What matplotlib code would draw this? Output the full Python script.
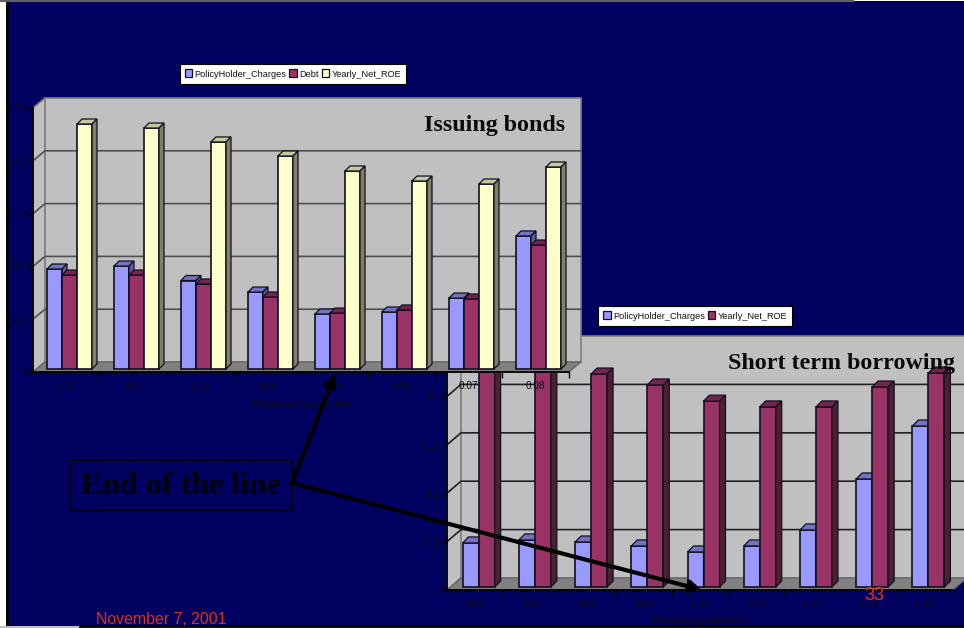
import numpy as np
import matplotlib
matplotlib.use('Agg')
import matplotlib.pyplot as plt
from matplotlib.patches import Polygon, Patch, Rectangle

W, H = 964, 628

# issuing bonds chart
bond_cats = ['0.01', '0.02', '0.03', '0.04', '0.05', '0.06', '0.07', '0.08']
bond_charges = [0.0947, 0.0975, 0.0838, 0.0729, 0.0521, 0.0540, 0.0672, 0.1260]
bond_debt = [0.0890, 0.0890, 0.0805, 0.0682, 0.0530, 0.0559, 0.0663, 0.1174]
bond_roe = [0.2320, 0.2282, 0.2150, 0.2017, 0.1875, 0.1780, 0.1752, 0.1913]

# short term borrowing chart
short_cats = ['0.01', '0.02', '0.03', '0.04', '0.05', '0.06', '0.07', '0.08', '0.09']
short_charges = [0.0455, 0.0486, 0.0465, 0.0424, 0.0362, 0.0424, 0.0589, 0.1116, 0.1663]
short_roe = [0.2350, 0.2280, 0.2200, 0.2087, 0.1920, 0.1860, 0.1860, 0.2066, 0.2210]

y_ticks = [0, 0.05, 0.1, 0.15, 0.2, 0.25]
y_labels = ['0', '0.05', '0.1', '0.15', '0.2', '0.25']

# front, top, side colours
BLUE = ('#9999ff', '#7373c0', '#5c5c99')
WINE = ('#993366', '#73264d', '#4d1f33')
CREAM = ('#ffffcc', '#c8c8a0', '#808066')
INK = '#0a0a1e'

plt.rcParams['font.family'] = ['Liberation Sans', 'DejaVu Sans']

fig = plt.figure(figsize=(W / 100, H / 100), dpi=100, facecolor='white')


def px_axes(x0, y0, x1, y1, z):
    # pixel box (top-down) to figure fraction
    return fig.add_axes([x0 / W, 1 - y1 / H, (x1 - x0) / W, (y1 - y0) / H], zorder=z)


def chart(box, z, cats, series, colors, names, depth, bar_px, bar_shift, grid_col, xlabel, xlabel_y, legend_box):
    ax = px_axes(*box, z)
    n = len(cats)
    ax.set_xlim(0, n)
    ax.set_ylim(0, 0.25)
    ax.patch.set_visible(False)
    px_x = n / (box[2] - box[0])
    px_y = 0.25 / (box[3] - box[1])
    dx, dy = depth[0] * px_x, depth[1] * px_y

    # walls and floor
    top = 0.25
    ax.add_patch(Polygon([(0, 0), (0, top), (dx, top + dy), (dx, dy)], fc='#c0c0c0', ec='#808080', lw=1.2, clip_on=False, zorder=1))
    ax.add_patch(Polygon([(dx, dy), (dx, top + dy), (n + dx, top + dy), (n + dx, dy)], fc='#c0c0c0', ec='#808080', lw=1.2, clip_on=False, zorder=1))
    ax.add_patch(Polygon([(0, 0), (dx, dy), (n + dx, dy), (n, 0)], fc='#808080', ec='#606060', lw=0.8, clip_on=False, zorder=1))
    for t in y_ticks[1:-1]:
        ax.plot([0, dx, n + dx], [t, t + dy, t + dy], color=grid_col, lw=1.2, clip_on=False, zorder=2)

    # bars with fake depth
    w = bar_px * px_x
    k = len(series)
    sx, sy = bar_shift[0] * px_x, bar_shift[1] * px_y
    bx, by = bar_shift[2] * px_x, bar_shift[3] * px_y
    xs = np.arange(n) + 0.5 + sx
    for j, (vals, col) in enumerate(zip(series, colors)):
        left = xs + (j - k / 2) * w
        ax.bar(left, vals, width=w, bottom=sy, align='edge', color=col[0], edgecolor='#101020', lw=1.2, zorder=3 + j * 2)
        for l, v in zip(left, vals):
            t = v + sy
            ax.add_patch(Polygon([(l, t), (l + bx, t + by), (l + w + bx, t + by), (l + w, t)], fc=col[1], ec='#101020', lw=0.9, zorder=3 + j * 2, clip_on=False))
            ax.add_patch(Polygon([(l + w, sy), (l + w, t), (l + w + bx, t + by), (l + w + bx, sy + by)], fc=col[2], ec='#101020', lw=0.9, zorder=3 + j * 2, clip_on=False))

    for s in ('top', 'right'):
        ax.spines[s].set_visible(False)
    for s in ('left', 'bottom'):
        ax.spines[s].set_color('black')
        ax.spines[s].set_linewidth(1.3)
        ax.spines[s].set_zorder(20)
    ax.set_yticks(y_ticks, y_labels)
    ax.set_xticks(np.arange(n) + 0.5, cats)
    ax.set_xticks(np.arange(n + 1), minor=True)
    ax.tick_params(axis='x', which='major', length=0, pad=6.5, labelsize=7.2, labelcolor=INK)
    ax.tick_params(axis='x', which='minor', length=4, width=1, color='black')
    ax.tick_params(axis='y', length=4, width=1, color='black', pad=1, labelsize=7.2, labelcolor=INK)
    for tl in ax.get_xticklabels() + ax.get_yticklabels():
        tl.set_zorder(30)

    fig.text(xlabel[1] / W, 1 - xlabel_y / H, xlabel[0], fontsize=7.4, fontweight='bold', color=INK, ha='center', va='center', zorder=z)

    handles = [Patch(fc=c[0], ec='#101020', lw=0.9) for c in colors]
    leg = ax.legend(handles, names, ncol=len(names), loc='center', bbox_to_anchor=(legend_box[0] / W, 1 - legend_box[1] / H),
                    bbox_transform=fig.transFigure, fontsize=6.6, frameon=True, fancybox=False, edgecolor='black', framealpha=1,
                    handlelength=0.85, handleheight=0.95, handletextpad=0.25, columnspacing=0.3, borderpad=0.55, borderaxespad=0)
    leg.get_frame().set_linewidth(0.8)
    leg.set_zorder(40)
    for txt in leg.get_texts():
        txt.set_color('#101010')
    return ax


# page background
bg = px_axes(0, 0, W, H, 0)
bg.set_xlim(0, W)
bg.set_ylim(H, 0)
bg.axis('off')
bg.add_patch(Rectangle((6, 1), W - 6, 625, fc='#000060', ec='none'))
bg.plot([7, 7], [1, 626], color='black', lw=2)
bg.plot([7, W], [626, 626], color='black', lw=2)
bg.plot([0, 853], [0.5, 0.5], color='#606060', lw=1.5)
bg.plot([0, 78], [627, 627], color='#c0c0c0', lw=1.5)

chart((447, 348, 953, 590), 1, short_cats, [short_charges, short_roe], [BLUE, WINE],
      ['PolicyHolder_Charges', 'Yearly_Net_ROE'], (14, 12), 16, (3.5, 3, 6, 6), '#202020',
      ('Minimum guarantee', 699), 620, (695, 316))

chart((33, 108, 569, 372), 2, bond_cats, [bond_charges, bond_debt, bond_roe], [BLUE, WINE, CREAM],
      ['PolicyHolder_Charges', 'Debt', 'Yearly_Net_ROE'], (12, 10), 15, (3, 3, 5, 5), '#505050',
      ('Minimum Guarantee', 300), 405, (293, 74))

# slide annotations on top
top = px_axes(0, 0, W, H, 5)
top.set_xlim(0, W)
top.set_ylim(H, 0)
top.axis('off')
top.patch.set_visible(False)

serif = ['Liberation Serif', 'DejaVu Serif']
top.text(565, 125, 'Issuing bonds', family=serif, fontweight='bold', fontsize=17.3, color='#0a0a0a', ha='right', va='center')
top.text(955, 363, 'Short term borrowing', family=serif, fontweight='bold', fontsize=17.3, color='#0a0a0a', ha='right', va='center')
top.add_patch(Rectangle((70, 460), 222, 50, fc='none', ec='black', lw=1.2))
top.text(181, 487, 'End of the line', family=serif, fontweight='bold', fontsize=23, color='#02020c', ha='center', va='center')

for end in [(335, 374), (702, 590)]:
    top.annotate('', xy=end, xytext=(292, 483),
                 arrowprops=dict(arrowstyle='-|>,head_width=0.35,head_length=0.7', color='black', lw=3, shrinkA=0, shrinkB=0))

top.text(96, 620, 'November 7, 2001', fontsize=11.4, color='#e03010', ha='left', va='center')
top.text(874, 596, '33', fontsize=13, color='#f03010', ha='center', va='center')

fig.savefig('out.png', dpi=100)
